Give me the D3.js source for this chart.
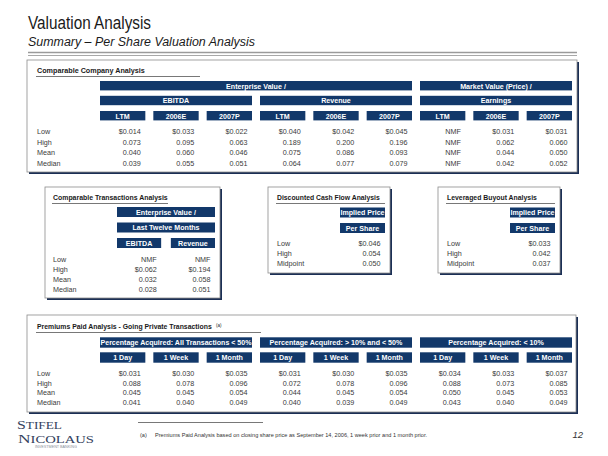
<!DOCTYPE html>
<html><head><meta charset="utf-8">
<script src="https://cdn.jsdelivr.net/npm/d3@7"></script>
<style>body{margin:0;background:#fff}svg{display:block}</style>
</head><body><svg id="c" width="608" height="456"></svg>
<script>
// ---------- DATA ----------
const rowLabels = ["Low","High","Mean","Median"];
const rowLabels3 = ["Low","High","Midpoint"];

const compTop = ["Enterprise Value /","Market Value (Price) /"];
const compGroups = ["EBITDA","Revenue","Earnings"];
const compCols = ["LTM","2006E","2007P","LTM","2006E","2007P","LTM","2006E","2007P"];
const compLow    = [0.014,0.033,0.022,0.040,0.042,0.045,null,0.031,0.031];
const compHigh   = [0.073,0.095,0.063,0.189,0.200,0.196,null,0.062,0.060];
const compMean   = [0.040,0.060,0.046,0.075,0.086,0.093,null,0.044,0.050];
const compMedian = [0.039,0.055,0.051,0.064,0.077,0.079,null,0.042,0.052];

const transTop = ["Enterprise Value /","Last Twelve Months"];
const transCols = ["EBITDA","Revenue"];
const transLow    = [null,null];
const transHigh   = [0.062,0.194];
const transMean   = [0.032,0.058];
const transMedian = [0.028,0.051];

const implTop = ["Implied Price","Per Share"];
const dcfValues = [0.046,0.054,0.050];
const lboValues = [0.033,0.042,0.037];

const premGroups = ["Percentage Acquired: All Transactions < 50%","Percentage Acquired: > 10% and < 50%","Percentage Acquired: < 10%"];
const premCols = ["1 Day","1 Week","1 Month","1 Day","1 Week","1 Month","1 Day","1 Week","1 Month"];
const premLow    = [0.031,0.030,0.035,0.031,0.030,0.035,0.034,0.033,0.037];
const premHigh   = [0.088,0.078,0.096,0.072,0.078,0.096,0.088,0.073,0.085];
const premMean   = [0.045,0.045,0.054,0.044,0.045,0.054,0.050,0.045,0.053];
const premMedian = [0.041,0.040,0.049,0.040,0.039,0.049,0.043,0.040,0.049];

// ---------- DRAW ----------
const svg = d3.select("#c");
const NAVY = "#12386a";
const SANS = "Arial, 'Liberation Sans', Helvetica, sans-serif";
const fmt = d3.format(".3f");

svg.append("rect").attr("width",608).attr("height",456).attr("fill","#fff");

function condense(sel, ratio, maxW){
  const n = sel.node();
  const L = n.getComputedTextLength();
  let t = L*ratio;
  if(maxW && t>maxW) t = maxW;
  sel.attr("textLength",t).attr("lengthAdjust","spacingAndGlyphs");
  return sel;
}

// Title
svg.append("text").attr("x",28).attr("y",29).attr("font-family",SANS).attr("font-size",17.5)
  .attr("fill","#1a1a1a").attr("textLength",123).attr("lengthAdjust","spacingAndGlyphs").text("Valuation Analysis");
svg.append("text").attr("x",28).attr("y",46).attr("font-family",SANS).attr("font-size",12)
  .attr("font-style","italic").attr("fill","#1a1a1a").attr("textLength",227).attr("lengthAdjust","spacingAndGlyphs")
  .text("Summary \u2013 Per Share Valuation Analysis");
svg.append("line").attr("x1",28).attr("x2",577).attr("y1",52.5).attr("y2",52.5).attr("stroke","#9a9a9a").attr("stroke-width",1.6);
svg.append("line").attr("x1",28).attr("x2",577).attr("y1",55.5).attr("y2",55.5).attr("stroke","#a8a8a8").attr("stroke-width",1);

function box(x,y,w,h){
  svg.append("rect").attr("x",x+2).attr("y",y+2).attr("width",w).attr("height",h).attr("fill","#1b2f55");
  svg.append("rect").attr("x",x).attr("y",y).attr("width",w).attr("height",h).attr("fill","#fff").attr("stroke","#8c8c8c").attr("stroke-width",0.8);
}
function boxTitle(x,y,len,ulEnd,txt,sup){
  const g = svg.append("g").attr("transform",`translate(${x},${y})`);
  const t = g.append("text").attr("x",0).attr("y",0).attr("font-family",SANS).attr("font-weight","bold")
    .attr("font-size",8).attr("fill","#1a1a1a").text(txt);
  const L = t.node().getComputedTextLength();
  t.attr("transform",`scale(${len/L},1)`);
  if(sup){
    svg.append("text").attr("x",x+len+4).attr("y",y-2.5).attr("font-family",SANS).attr("font-size",4.5).attr("fill","#1a1a1a").text(sup);
  }
  svg.append("line").attr("x1",x-1).attr("x2",ulEnd).attr("y1",y+3.5).attr("y2",y+3.5).attr("stroke","#555").attr("stroke-width",0.8);
}
function bar(x0,x1,y,h,txt,fs){
  svg.append("rect").attr("x",x0).attr("y",y).attr("width",x1-x0).attr("height",h).attr("fill",NAVY);
  const t = svg.append("text").attr("x",(x0+x1)/2).attr("y",y+h/2+2.8).attr("text-anchor","middle")
    .attr("font-family",SANS).attr("font-weight","bold").attr("font-size",fs||8.1).attr("fill","#fff").text(txt);
  condense(t,0.88,(x1-x0)-1);
}
function rows(labels,lx,yScale){
  svg.append("g").selectAll("text").data(labels).join("text")
    .attr("x",lx).attr("y",(d,i)=>yScale(i)).attr("font-family",SANS).attr("font-size",7.2).attr("fill","#3a3a3a").text(d=>d);
}
function values(matrix,xScale,yScale){
  const ncol = matrix[0].length;
  for(let c=0;c<ncol;c++){
    let first = true;
    matrix.forEach((r,ri)=>{
      const v = r[c];
      let s;
      if(v==null){ s="NMF"; }
      else { s = (first?"$":"")+fmt(v); first=false; }
      svg.append("text").attr("x",xScale(c)+xScale.bandwidth()-4.5).attr("y",yScale(ri))
        .attr("text-anchor","end").attr("font-family",SANS).attr("font-size",7.2).attr("fill","#3a3a3a").text(s);
    });
  }
}

// ---- Box 1: Comparable Company Analysis
box(27,60,550,112);
boxTitle(37,73,108,200,"Comparable Company Analysis");
const x1 = d3.scaleBand().domain(d3.range(compCols.length)).range([100,572]).paddingInner(0.15);
const bw1 = x1.bandwidth();
bar(x1(0),x1(5)+bw1,81,9.4,compTop[0]);
bar(x1(6),x1(8)+bw1,81,9.4,compTop[1]);
compGroups.forEach((g,i)=>bar(x1(i*3),x1(i*3+2)+bw1,95.8,9.4,g));
compCols.forEach((c,i)=>bar(x1(i),x1(i)+bw1,111,9.4,c));
const y1 = d3.scaleLinear().domain([0,1]).range([134,144.5]);
rows(rowLabels,37,y1);
values([compLow,compHigh,compMean,compMedian],x1,y1);

// ---- Box 2: Comparable Transactions Analysis
box(45,187,175,111);
boxTitle(53,200,115,168,"Comparable Transactions Analysis");
const x2 = d3.scaleBand().domain(d3.range(transCols.length)).range([117,215]).paddingInner(0.18);
bar(117,215,207,10,transTop[0]);
bar(117,215,222.5,10,transTop[1]);
transCols.forEach((c,i)=>bar(x2(i),x2(i)+x2.bandwidth(),238,10,c));
const y2 = d3.scaleLinear().domain([0,1]).range([262,272]);
rows(rowLabels,53,y2);
values([transLow,transHigh,transMean,transMedian],x2,y2);

// ---- Box 3: DCF
box(268,187,122,86);
boxTitle(277,200,103,385,"Discounted Cash Flow Analysis");
const x3 = d3.scaleBand().domain([0]).range([340,385]);
bar(340,385,207.5,10,implTop[0]);
bar(340,385,223,10,implTop[1]);
const y3 = d3.scaleLinear().domain([0,1]).range([245.5,255.8]);
rows(rowLabels3,277,y3);
values(dcfValues.map(v=>[v]),x3,y3);

// ---- Box 4: LBO
box(438,187,122,86);
boxTitle(447,200,90,555,"Leveraged Buyout Analysis");
const x4 = d3.scaleBand().domain([0]).range([510,555]);
bar(510,555,207.5,10,implTop[0]);
bar(510,555,223,10,implTop[1]);
rows(rowLabels3,447,y3);
values(lboValues.map(v=>[v]),x4,y3);

// ---- Box 5: Premiums Paid
box(27,315,549,97);
boxTitle(37,329,175,261,"Premiums Paid Analysis - Going Private Transactions","(a)");
const x5 = d3.scaleBand().domain(d3.range(premCols.length)).range([100,572]).paddingInner(0.15);
const bw5 = x5.bandwidth();
premGroups.forEach((g,i)=>bar(x5(i*3),x5(i*3+2)+bw5,337.3,10.4,g));
premCols.forEach((c,i)=>bar(x5(i),x5(i)+bw5,352.3,10.4,c));
const y5 = d3.scaleLinear().domain([0,1]).range([376,385.7]);
rows(rowLabels,37,y5);
values([premLow,premHigh,premMean,premMedian],x5,y5);

// ---- Footer
const LOGO = "#34425e";
const SERIF = "'Liberation Serif','DejaVu Serif',Georgia,serif";
const s1 = svg.append("text").attr("x",17).attr("y",428.5).attr("font-family",SERIF).attr("fill",LOGO).attr("textLength",45).attr("lengthAdjust","spacingAndGlyphs");
s1.append("tspan").attr("font-size",12.5).text("S");
s1.append("tspan").attr("font-size",10.5).text("TIFEL");
const s2 = svg.append("text").attr("x",18).attr("y",442.5).attr("font-family",SERIF).attr("fill",LOGO).attr("textLength",76).attr("lengthAdjust","spacingAndGlyphs");
s2.append("tspan").attr("font-size",12.5).text("N");
s2.append("tspan").attr("font-size",10.5).text("ICOLAUS");
svg.append("text").attr("x",35).attr("y",447.5).attr("font-family",SANS).attr("font-size",3).attr("fill","#8a8f9a")
  .attr("textLength",42).attr("lengthAdjust","spacingAndGlyphs").text("INVESTMENT BANKING");

svg.append("line").attr("x1",138).attr("x2",263).attr("y1",422.5).attr("y2",422.5).attr("stroke","#555").attr("stroke-width",0.8);
svg.append("text").attr("x",140).attr("y",437).attr("font-family",SANS).attr("font-size",5.6).attr("fill","#333").text("(a)");
svg.append("text").attr("x",155).attr("y",437).attr("font-family",SANS).attr("font-size",5.6).attr("fill","#333")
  .attr("textLength",272).attr("lengthAdjust","spacingAndGlyphs")
  .text("Premiums Paid Analysis based on closing share price as September 14, 2006, 1 week prior and 1 month prior.");
svg.append("text").attr("x",583).attr("y",438).attr("text-anchor","end").attr("font-family",SANS).attr("font-style","italic")
  .attr("font-size",9.5).attr("fill","#333").text("12");
</script>
</body></html>
